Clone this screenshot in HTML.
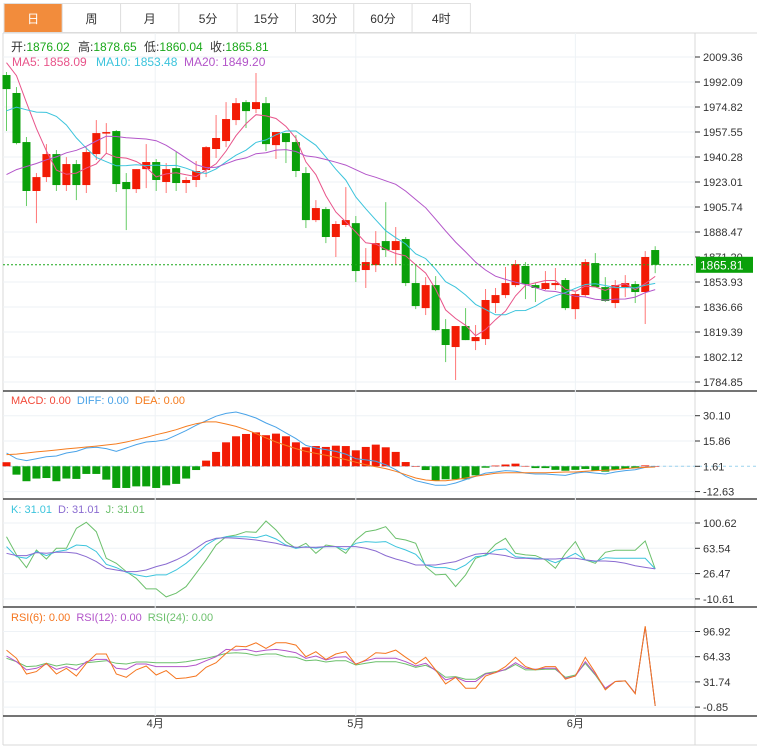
<!DOCTYPE html>
<html><head><meta charset="utf-8"><style>
body{margin:0;background:#fff;font-family:"Liberation Sans","Noto Sans CJK SC",sans-serif;}
svg{display:block}
</style></head><body>
<svg id="c" width="757" height="748" viewBox="0 0 757 748" xmlns="http://www.w3.org/2000/svg" font-family="Liberation Sans, Noto Sans CJK SC, sans-serif">
<g id="tabs"></g>
<g id="grid"></g>
<g id="marks"></g>
<g id="axes"></g>
<g id="legend">
<g font-size="12">
<text x="11" y="51" fill="#333">开:<tspan fill="#1aa81a">1876.02</tspan></text>
<text x="78" y="51" fill="#333">高:<tspan fill="#1aa81a">1878.65</tspan></text>
<text x="144" y="51" fill="#333">低:<tspan fill="#1aa81a">1860.04</tspan></text>
<text x="210" y="51" fill="#333">收:<tspan fill="#1aa81a">1865.81</tspan></text>
</g>
<g font-size="12">
<text x="12" y="66" fill="#e8548a">MA5: 1858.09</text>
<text x="96" y="66" fill="#3cc4dc">MA10: 1853.48</text>
<text x="184" y="66" fill="#b355c9">MA20: 1849.20</text>
</g>
<text x="11" y="404" font-size="11"><tspan fill="#f24a3a">MACD: 0.00</tspan><tspan fill="#4aa3e8" dx="6">DIFF: 0.00</tspan><tspan fill="#f57c1f" dx="6">DEA: 0.00</tspan></text>
<text x="11" y="513" font-size="11"><tspan fill="#3cc4dc">K: 31.01</tspan><tspan fill="#8a6bd1" dx="6">D: 31.01</tspan><tspan fill="#6cc06c" dx="6">J: 31.01</tspan></text>
<text x="11" y="621" font-size="11"><tspan fill="#f5751f">RSI(6): 0.00</tspan><tspan fill="#b355c9" dx="6">RSI(12): 0.00</tspan><tspan fill="#6cc06c" dx="6">RSI(24): 0.00</tspan></text>
</g>
</svg>
<script>
// ---- data ----
const tabLabels=["日","周","月","5分","15分","30分","60分","4时"];
const monthLabels=["4月","5月","6月"];
const monthIdx=[15,35,57];
const priceTicks=[2009.36,1992.09,1974.82,1957.55,1940.28,1923.01,1905.74,1888.47,1871.20,1853.93,1836.66,1819.39,1802.12,1784.85];
const macdTicks=[30.10,15.86,1.61,-12.63];
const kdjTicks=[100.62,63.54,26.47,-10.61];
const rsiTicks=[96.92,64.33,31.74,-0.85];
const lastPrice=1865.81;
const prehist=[1880,1875,1885,1890,1882,1878,1886,1889,1884,1891,1925,1935,1942,1945,1948,1995,2010,2015,2020];
const opens=[1996.9,1984.5,1950.6,1916.8,1926.4,1942.3,1920.9,1935.4,1920.9,1942.3,1956.8,1958.2,1923.0,1918.1,1931.9,1936.8,1923.0,1932.6,1922.3,1924.4,1931.3,1945.8,1951.3,1965.8,1978.2,1973.4,1977.5,1948.5,1956.8,1950.6,1929.2,1896.7,1904.3,1885.0,1893.3,1894.6,1862.2,1865.6,1882.2,1876.0,1883.6,1853.2,1835.9,1851.8,1821.4,1809.0,1823.5,1813.1,1814.5,1839.4,1844.9,1851.8,1865.0,1851.8,1849.1,1851.8,1855.3,1835.2,1844.9,1867.0,1850.4,1839.4,1850.4,1852.5,1847.0,1876.02];
const highs=[1999.0,1988.6,1954.1,1929.2,1949.2,1945.1,1940.2,1938.2,1947.1,1965.8,1963.7,1958.9,1929.2,1931.9,1949.2,1938.9,1936.1,1943.7,1926.4,1937.5,1947.8,1969.3,1978.2,1981.0,1979.6,1998.3,1981.7,1957.5,1956.8,1955.4,1933.3,1910.5,1905.7,1896.0,1919.5,1899.5,1877.4,1889.1,1909.1,1891.9,1885.0,1865.6,1857.3,1858.0,1828.3,1823.5,1835.9,1824.2,1849.1,1849.8,1864.3,1869.1,1867.7,1853.2,1861.5,1863.6,1856.7,1847.0,1869.8,1873.9,1857.3,1855.3,1858.7,1854.6,1875.3,1878.65];
const lows=[1958.2,1949.0,1906.4,1894.6,1923.0,1916.8,1916.8,1910.5,1915.4,1938.2,1942.3,1916.1,1889.8,1915.4,1918.8,1916.8,1915.4,1916.8,1915.4,1919.5,1926.4,1939.6,1947.1,1962.3,1960.3,1970.6,1944.4,1938.9,1936.1,1926.4,1891.2,1895.3,1880.8,1871.2,1891.9,1853.9,1849.8,1860.8,1871.2,1865.6,1851.1,1835.2,1831.1,1820.0,1798.6,1786.2,1813.8,1806.9,1810.4,1832.5,1842.8,1850.4,1842.1,1840.1,1848.4,1848.4,1834.5,1828.3,1843.5,1850.4,1840.1,1835.9,1843.5,1839.4,1824.9,1860.04];
const closes=[1987.2,1949.9,1916.8,1926.4,1942.3,1920.9,1935.4,1920.9,1943.7,1956.8,1957.5,1921.6,1918.1,1931.9,1936.8,1924.4,1931.9,1922.3,1924.4,1930.6,1947.1,1953.4,1966.5,1977.5,1972.0,1978.2,1949.2,1957.5,1950.6,1930.6,1896.7,1905.0,1885.0,1894.0,1896.7,1861.5,1867.7,1880.8,1876.0,1882.2,1853.2,1837.3,1851.8,1820.7,1810.4,1823.5,1813.8,1815.9,1841.5,1844.9,1853.2,1866.3,1852.5,1849.8,1853.2,1853.2,1835.9,1845.6,1867.7,1850.4,1840.8,1851.8,1853.2,1847.0,1871.2,1865.81];
const macdHist=[2.3,-4.7,-8.4,-6.9,-6.6,-8.4,-6.9,-7.1,-4.3,-4.3,-7.5,-12.2,-12.2,-11.3,-11.3,-12.2,-10.7,-9.9,-6.9,-2.1,3.2,8.1,13.5,16.9,18.2,19.1,17.5,18.4,16.9,13.5,10.7,11.4,10.9,11.6,11.4,9.0,10.9,12.2,10.7,8.1,2.4,0,-2.1,-8.1,-7.3,-7.3,-7.3,-5.1,-0.8,0.4,1.0,1.5,0.2,-1.0,-1.0,-2.0,-2.5,-2.0,-1.5,-2.5,-3.0,-2.0,-1.5,-1.0,0.5,0.1];
const diffVals=[9.1,5.9,4.8,5.9,7.0,7.4,9.1,10.0,11.9,12.3,11.6,10.0,11.9,13.8,15.3,15.7,16.6,19.1,21.7,24.7,27.3,29.8,31.4,32.2,30.7,28.8,26.0,23.6,20.4,17.2,13.4,11.9,11.0,10.0,8.5,5.9,5.2,4.4,2.5,-0.3,-4.0,-6.5,-7.8,-9.1,-9.1,-7.8,-5.9,-4.0,-2.2,-1.6,-0.8,-1.2,-2.2,-2.7,-2.7,-3.1,-3.5,-2.2,-1.6,-2.2,-2.7,-1.6,-0.8,-0.3,1.0,1.6];
const deaVals=[8.2,8.5,9.1,9.7,10.2,10.8,11.4,11.9,12.5,13.0,13.6,14.2,15.3,16.6,17.9,19.4,20.7,22.2,24.1,25.6,26.6,26.6,25.4,24.1,22.2,20.0,17.6,15.3,13.4,11.6,10.0,8.9,7.8,6.7,5.4,3.9,2.5,1.4,0.3,-1.2,-3.1,-5.0,-6.1,-6.5,-6.5,-5.9,-5.0,-4.0,-3.1,-2.3,-2.0,-2.0,-2.0,-2.0,-2.0,-1.8,-1.6,-1.6,-1.2,-0.8,-0.6,-0.3,0.3,0.7,1.0,1.2];
const kVals=[66.0,51.3,48.9,58.7,52.8,58.7,61.1,68.4,67.4,58.7,40.1,35.2,28.4,24.5,22.0,24.5,24.5,31.8,41.6,53.8,68.4,77.2,80.6,80.6,80.6,79.1,83.1,77.2,68.4,63.5,66.0,63.5,66.0,66.0,61.1,70.9,73.3,72.3,73.3,66.0,61.1,54.7,39.1,35.2,35.2,31.8,39.1,51.3,52.8,61.1,62.6,51.3,49.8,48.9,47.9,42.5,48.9,56.2,46.5,44.0,49.8,48.9,48.9,48.9,48.9,33.3];
const dVals=[56.2,52.8,52.8,57.2,56.2,57.7,57.7,56.2,51.3,44.0,34.3,31.8,29.4,29.4,31.8,36.7,40.6,46.5,53.8,63.5,73.3,78.2,79.1,78.2,77.2,75.7,73.3,70.9,67.4,65.0,65.0,65.0,66.0,66.0,66.0,66.0,63.5,59.6,52.8,47.9,44.0,39.1,39.1,39.1,41.6,44.0,49.8,54.7,56.2,54.7,52.8,48.9,48.9,47.9,47.9,47.9,48.9,48.9,46.5,45.0,45.0,44.0,41.6,38.1,35.5,33.3];
const jVals=[80.6,53.8,35.2,61.1,47.9,63.5,63.5,92.8,101.6,87.9,48.9,41.6,29.4,19.6,4.0,4.0,-7.7,-2.3,7.4,26.9,46.5,68.4,80.6,83.1,87.9,87.0,103.5,90.4,73.3,63.5,70.9,56.2,68.4,66.0,56.2,75.7,87.9,90.4,95.2,78.2,75.7,70.9,36.7,24.5,25.5,7.4,24.5,48.9,53.8,69.4,78.2,56.2,53.8,52.8,46.5,34.3,56.2,73.3,46.5,41.6,57.7,60.6,60.6,60.6,74.3,33.3];
const rsi6=[72.9,62.2,42.0,45.0,55.8,42.0,49.3,39.4,55.8,67.8,67.8,42.0,37.7,47.2,52.3,40.7,46.3,36.0,36.9,39.4,50.6,56.6,68.6,78.1,77.2,82.3,75.1,82.3,82.3,79.3,64.3,70.8,60.9,67.8,70.8,54.4,60.0,69.5,68.6,72.9,63.5,54.9,63.5,47.2,29.2,37.7,23.6,23.6,39.4,43.8,51.5,63.5,51.5,47.2,51.5,51.5,35.2,39.4,63.5,43.8,21.4,32.2,33.0,16.3,103.8,0.8];
const rsi12=[65.2,57.9,47.2,49.3,54.9,48.0,51.5,47.2,57.9,60.9,60.9,49.3,48.0,54.9,54.9,51.5,51.5,51.5,51.5,53.6,59.2,64.3,73.8,72.9,73.8,70.8,72.9,73.8,72.0,69.5,62.2,65.2,60.0,63.5,64.3,54.9,59.2,62.2,62.2,62.2,57.9,52.3,55.8,46.3,34.3,37.7,32.2,32.2,42.0,43.8,48.0,56.6,49.3,48.0,49.3,49.3,36.4,39.4,57.9,42.0,23.6,32.2,33.0,17.1,102.9,0.8];
const rsi24=[62.2,57.9,51.5,52.3,55.8,52.3,54.9,53.6,56.6,57.9,59.2,55.8,54.9,57.5,57.5,56.6,56.6,56.6,57.9,60.0,62.2,65.2,68.6,69.5,68.6,66.0,67.8,67.8,64.3,63.5,59.2,60.0,57.5,59.2,59.2,53.6,55.8,57.9,57.9,57.9,54.9,50.6,53.2,47.2,37.7,38.6,35.2,35.2,42.9,45.0,47.2,54.4,47.2,47.2,48.0,48.0,37.7,40.7,55.8,40.7,22.3,32.2,33.0,17.1,102.9,0.8];

// ---- scales ----
const NS='http://www.w3.org/2000/svg';
function mk(tag,attrs,parent){const e=document.createElementNS(NS,tag);for(const k in attrs)e.setAttribute(k,attrs[k]);parent.appendChild(e);return e;}
const xAt=i=>6.5+i*9.98;
const yP=p=>57+(2009.36-p)/17.27*25;
const yM=v=>466.3-(v-1.61)*25.3/14.245;
const yK=v=>548.3-(v-63.54)*25.3/37.07;
const yR=v=>656.7-(v-64.33)*25.2/32.59;
const G=document.getElementById('grid'),M=document.getElementById('marks'),A=document.getElementById('axes'),T=document.getElementById('tabs');

tabLabels.forEach((t,i)=>{
  const x=4+i*58.3;
  const r=mk('rect',{x:x,y:3.5,width:58.3,height:29,fill:i===0?'#f28c3c':'#fff',stroke:'#e0e0e0'},T);
  
  
  const tx=mk('text',{x:x+29.15,y:23,'font-size':12,'text-anchor':'middle',fill:i===0?'#fff':'#333'},T);
  tx.textContent=t;
  
  
});

const fr=[[3,33,3,745],[695,33,695,745],[3,745,757,745],[3,33,757,33]];
fr.forEach(f=>{const l=mk('line',{x1:f[0],y1:f[1],x2:f[2],y2:f[3],stroke:'#d8d8d8'},G);
  
  });
[391,499,607,716].forEach(y=>{const l=mk('line',{x1:3,y1:y,x2:757,y2:y,stroke:'#222','stroke-width':1.2},G);
  
  });
monthIdx.forEach((mi,k)=>{const x=xAt(mi)+(k===0?-1:0);
  const l=mk('line',{x1:x,y1:33,x2:x,y2:716,stroke:'#eef2f6'},G);
  
  
  const t=mk('text',{x:x,y:727,'font-size':11,'text-anchor':'middle',fill:'#333'},A);t.textContent=monthLabels[k];
  
  });
function ticks(vals,scale,name){vals.forEach(v=>{const y=scale(v);
  const g=mk('line',{x1:3,y1:y,x2:695,y2:y,stroke:'#eef2f6'},G);
  
  
  const tk=mk('line',{x1:695,y1:y,x2:700,y2:y,stroke:'#333'},A);
  
  
  const t=mk('text',{x:703,y:y+4,'font-size':11,fill:'#333'},A);t.textContent=v.toFixed(2);
  
  });}
ticks(priceTicks,yP,'price');ticks(macdTicks,yM,'macd');ticks(kdjTicks,yK,'kdj');ticks(rsiTicks,yR,'rsi');

closes.forEach((c,i)=>{const o=opens[i],up=c>=o,x=xAt(i);
  const col=up?'#f21b04':'#0aa00a',wc=up?'#f77':'#6c6';
  const w=mk('line',{x1:x,y1:yP(highs[i]),x2:x,y2:yP(lows[i]),stroke:wc},M);
  
  
  const t=Math.min(yP(o),yP(c)),h=Math.max(1.5,Math.abs(yP(o)-yP(c)));
  const b=mk('rect',{x:x-4,y:t,width:8,height:h,fill:col},M);
  
  });
const all=prehist.concat(closes);
function ma(n){return closes.map((_,i)=>{const j=i+prehist.length;let s=0;for(let k=j-n+1;k<=j;k++)s+=all[k];return s/n;});}
function line(vals,scale,color,name){const d=vals.map((v,i)=>(i?'L':'M')+xAt(i).toFixed(1)+' '+scale(v).toFixed(1)).join('');
  const p=mk('path',{d:d,fill:'none',stroke:color,'stroke-width':1},M);
  
  }
line(ma(5),yP,'#e8548a','ma5-line');line(ma(10),yP,'#3cc4dc','ma10-line');line(ma(20),yP,'#b355c9','ma20-line');
const lp=mk('line',{x1:3,y1:yP(lastPrice),x2:695,y2:yP(lastPrice),stroke:'#1aa81a','stroke-dasharray':'2,2'},M);


const lb=mk('rect',{x:696,y:yP(lastPrice)-8,width:57,height:16,fill:'#0aa00a'},A);


const lt=mk('text',{x:700,y:yP(lastPrice)+4.5,'font-size':12,fill:'#fff'},A);lt.textContent=lastPrice.toFixed(2);


const zl=mk('line',{x1:3,y1:yM(1.61),x2:757,y2:yM(1.61),stroke:'#9bd3ee','stroke-dasharray':'3,3'},M);


macdHist.forEach((v,i)=>{const y0=yM(1.61),y1=yM(1.61+v);
  const r=mk('rect',{x:xAt(i)-4,y:Math.min(y0,y1),width:8,height:Math.max(0.5,Math.abs(y1-y0)),fill:v>=0?'#f21b04':'#0aa00a'},M);
  
  });
line(diffVals,yM,'#4aa3e8','diff-line');line(deaVals,yM,'#f57c1f','dea-line');
line(jVals,yK,'#6cc06c','j-line');line(kVals,yK,'#3cc4dc','k-line');line(dVals,yK,'#8a6bd1','d-line');
line(rsi24,yR,'#6cc06c','rsi24-line');line(rsi12,yR,'#b355c9','rsi12-line');line(rsi6,yR,'#f5751f','rsi6-line');
</script>
</body></html>
